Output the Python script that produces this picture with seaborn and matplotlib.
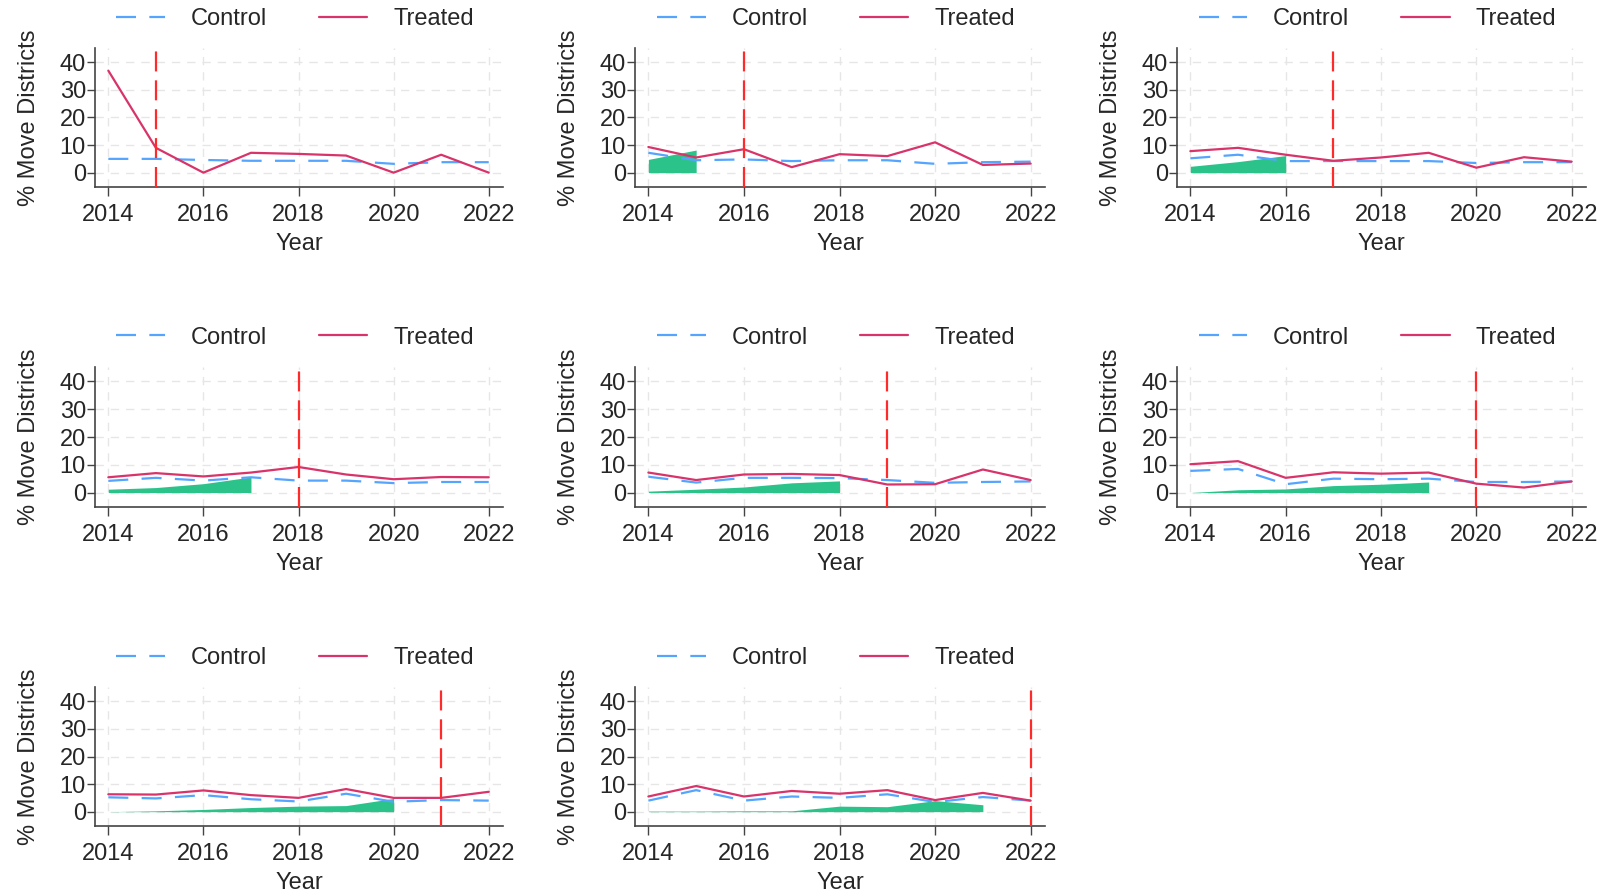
import numpy as np
import pandas as pd
import matplotlib
matplotlib.use("Agg")
import matplotlib.pyplot as plt
import seaborn as sns
from matplotlib.lines import Line2D

sns.set_style("white")
plt.rcParams['font.family'] = ['Liberation Sans', 'DejaVu Sans']

years = [2014, 2015, 2016, 2017, 2018, 2019, 2020, 2021, 2022]
treat_years = [2015, 2016, 2017, 2018, 2019, 2020, 2021, 2022]

treated_2015 = [37.0, 9.0, 0.0, 7.2, 6.8, 6.2, 0.0, 6.5, 0.0]
control_2015 = [5.0, 5.0, 4.6, 4.3, 4.3, 4.3, 3.2, 3.8, 3.8]
share_2015 = [0.0]

treated_2016 = [9.3, 5.5, 8.5, 2.0, 6.7, 6.0, 11.0, 2.8, 3.3]
control_2016 = [7.2, 4.5, 4.8, 4.2, 4.5, 4.5, 3.2, 3.8, 4.0]
share_2016 = [4.8, 8.2]

treated_2017 = [7.8, 9.0, 6.5, 4.3, 5.5, 7.2, 1.8, 5.6, 4.0]
control_2017 = [5.2, 6.5, 4.2, 4.2, 4.2, 4.2, 3.5, 3.8, 3.8]
share_2017 = [2.3, 4.0, 6.2]

treated_2018 = [5.5, 7.0, 5.8, 7.2, 9.2, 6.5, 4.8, 5.6, 5.5]
control_2018 = [4.2, 5.3, 4.3, 5.5, 4.3, 4.3, 3.4, 3.8, 3.8]
share_2018 = [1.2, 1.8, 3.2, 5.6]

treated_2019 = [7.2, 4.5, 6.5, 6.7, 6.3, 2.9, 3.0, 8.3, 4.5]
control_2019 = [5.7, 3.6, 5.3, 5.3, 5.2, 4.5, 3.5, 3.8, 4.0]
share_2019 = [0.5, 1.2, 2.0, 3.5, 4.2]

treated_2020 = [10.2, 11.3, 5.3, 7.3, 6.8, 7.2, 3.2, 1.8, 4.0]
control_2020 = [7.8, 8.5, 3.0, 5.0, 4.8, 5.0, 3.8, 3.8, 4.0]
share_2020 = [0.0, 1.0, 1.3, 2.5, 3.0, 3.8]

treated_2021 = [6.3, 6.2, 7.7, 6.0, 5.0, 8.2, 5.0, 5.0, 7.2]
control_2021 = [5.2, 4.8, 6.0, 4.5, 3.7, 6.5, 3.6, 4.2, 4.0]
share_2021 = [0.0, 0.3, 0.8, 1.5, 2.0, 2.2, 4.8]

treated_2022 = [5.5, 9.3, 5.5, 7.5, 6.5, 7.8, 4.2, 6.8, 4.0]
control_2022 = [4.0, 7.8, 4.0, 5.5, 5.0, 6.3, 3.5, 5.3, 4.0]
share_2022 = [0.2, 0.2, 0.3, 0.3, 2.0, 1.8, 4.0, 2.5]

treated_all = [treated_2015, treated_2016, treated_2017, treated_2018,
               treated_2019, treated_2020, treated_2021, treated_2022]
control_all = [control_2015, control_2016, control_2017, control_2018,
               control_2019, control_2020, control_2021, control_2022]
share_all = [share_2015, share_2016, share_2017, share_2018,
             share_2019, share_2020, share_2021, share_2022]

x_ticks = [2014, 2016, 2018, 2020, 2022]
y_ticks = [0, 10, 20, 30, 40]

C_CTRL = '#55a5ff'
C_TRT = '#d8346a'
C_VLINE = '#ff2a2a'
C_FILL = '#2cc38b'
FS = 17

W, H = 1602, 896
col_lr = [(95, 503), (635, 1045), (1177, 1586)]
row_tb = [(48, 187), (367, 507), (687, 826)]

fig = plt.figure(figsize=(16.02, 8.96), dpi=100)

for i, ty in enumerate(treat_years):
    r, c = divmod(i, 3)
    l, rr = col_lr[c]
    t, b = row_tb[r]
    ax = fig.add_axes([l / W, 1 - b / H, (rr - l) / W, (b - t) / H])

    df = pd.DataFrame({
        'Year': years * 2,
        'val': control_all[i] + treated_all[i],
        'group': ['Control'] * len(years) + ['Treated'] * len(years),
    })
    sh = share_all[i]
    if len(sh) > 1:
        ax.fill_between(years[:len(sh)], 0, sh, color=C_FILL, linewidth=0, zorder=1)
    sns.lineplot(data=df[df.group == 'Control'], x='Year', y='val', ax=ax,
                 color=C_CTRL, linewidth=1.6, legend=False, zorder=3)
    ax.lines[-1].set_dashes([9, 6])
    sns.lineplot(data=df[df.group == 'Treated'], x='Year', y='val', ax=ax,
                 color=C_TRT, linewidth=1.6, legend=False, zorder=4)
    ax.axvline(ty, color=C_VLINE, linewidth=1.6, dashes=[9, 4], zorder=5)

    ax.set_xlim(2013.72, 2022.3)
    ax.set_ylim(-5.2, 45.2)
    ax.set_xticks(x_ticks)
    ax.set_yticks(y_ticks)
    ax.tick_params(axis='x', labelsize=FS, length=6.5, width=1, color='#444444',
                   direction='out', bottom=True, pad=5.5)
    ax.tick_params(axis='y', labelsize=FS, length=5.5, width=1, color='#444444',
                   direction='out', left=True, pad=1)
    ax.grid(True, color='#e6e6e6', linestyle=(0, (6, 5)), linewidth=1)
    ax.set_axisbelow(True)
    for s in ['top', 'right']:
        ax.spines[s].set_visible(False)
    for s in ['left', 'bottom']:
        ax.spines[s].set_color('#444444')
        ax.spines[s].set_linewidth(1.2)
    ax.set_xlabel('Year', fontsize=FS, labelpad=5.5)
    ax.set_ylabel('% Move Districts', fontsize=FS, labelpad=14)

    handles = [Line2D([], [], color=C_CTRL, linewidth=1.6, dashes=[9, 6]),
               Line2D([], [], color=C_TRT, linewidth=1.6)]
    ax.legend(handles, ['Control', 'Treated'], loc='center', bbox_to_anchor=(0.49, 1.21),
              ncol=2, frameon=False, fontsize=FS, handlelength=2.05,
              columnspacing=2.2, handletextpad=1.1, borderaxespad=0)

fig.savefig('out.png', dpi=100)
